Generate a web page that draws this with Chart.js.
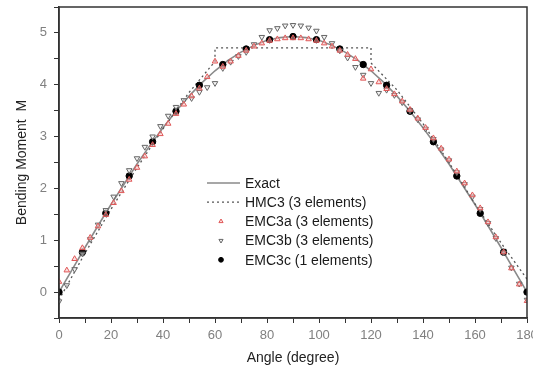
<!DOCTYPE html>
<html>
<head>
<meta charset="utf-8">
<script src="https://cdn.jsdelivr.net/npm/chart.js@4/dist/chart.umd.min.js"></script>
<style>
  html, body { margin: 0; padding: 0; background: #fff; }
  #wrap { width: 533px; height: 374px; }
</style>
</head>
<body>
<div id="wrap"><canvas id="c"></canvas></div>
<script>
// ---- data ----
let exactAngle = [0,5,10,15,20,25,30,35,40,45,50,55,60,65,70,75,80,85,90,95,100,105,110,115,120,125,130,135,140,145,150,155,160,165,170,175,180]
let exactM = [0,0.43,0.86,1.28,1.69,2.08,2.47,2.83,3.17,3.49,3.78,4.04,4.27,4.47,4.63,4.76,4.86,4.91,4.93,4.91,4.86,4.76,4.63,4.47,4.27,4.04,3.78,3.49,3.17,2.83,2.47,2.08,1.69,1.28,0.86,0.43,0]

let hmcAngle = [0,10,20,30,40,50,60,60,120,120,130,140,150,160,170,180]
let hmcM = [-0.15,0.75,1.6,2.4,3.15,3.85,4.45,4.71,4.71,4.42,3.9,3.25,2.5,1.7,0.95,0.25]

let emcAngle = [0,3,6,9,12,15,18,21,24,27,30,33,36,39,42,45,48,51,54,57,60,63,66,69,72,75,78,81,84,87,90,
                93,96,99,102,105,108,111,114,117,120,123,126,129,132,135,138,141,144,147,150,153,156,159,162,165,168,171,174,177,180]
let emc3a = [0.2,0.42,0.64,0.85,1.05,1.27,1.49,1.72,1.95,2.17,2.4,2.62,2.84,3.05,3.25,3.44,3.62,3.78,3.93,4.15,4.45,4.35,4.45,4.56,4.66,4.74,4.8,4.85,4.88,4.9,4.9,
             4.9,4.88,4.85,4.8,4.74,4.66,4.58,4.5,4.12,4.3,4.05,3.92,3.82,3.68,3.52,3.35,3.17,2.97,2.77,2.56,2.33,2.1,1.87,1.62,1.35,1.06,0.77,0.46,0.15,-0.17]
let emc3b = [-0.18,0.13,0.44,0.74,1.02,1.3,1.58,1.84,2.1,2.35,2.58,2.8,3.0,3.2,3.4,3.57,3.7,3.74,3.86,3.95,4.03,4.32,4.44,4.55,4.63,4.78,4.92,5.05,5.09,5.14,5.15,
             5.14,5.1,5.04,4.92,4.8,4.66,4.52,4.34,4.19,4.03,3.84,3.9,3.8,3.66,3.5,3.33,3.15,2.95,2.75,2.54,2.31,2.08,1.84,1.6,1.33,1.04,0.76,0.47,0.16,-0.15]

let emcCAngle = [0,9,18,27,36,45,54,63,72,81,90,99,108,117,126,135,144,153,162,171,180]
let emc3c = [0,0.77,1.52,2.24,2.9,3.49,3.99,4.39,4.69,4.87,4.93,4.87,4.69,4.39,3.99,3.49,2.9,2.24,1.52,0.77,0]

let seriesNames = ["Exact", "HMC3 (3 elements)", "EMC3a (3 elements)", "EMC3b (3 elements)", "EMC3c (1 elements)"]

function pts(xs, ys) {
    return xs.map(function(x, i) { return { x: x, y: ys[i] } })
}

// frame around plot + legend inside the plot
let framePlugin = {
    id: "frame",
    afterDraw: function(chart) {
        let ctx = chart.ctx
        let a = chart.chartArea
        ctx.save()
        ctx.strokeStyle = "#333"
        ctx.lineWidth = 1.5
        ctx.strokeRect(a.left, a.top, a.right - a.left, a.bottom - a.top)

        // legend
        let x0 = 207, y0 = 183, gap = 19.2
        ctx.font = "14px 'Liberation Sans', Arial, sans-serif"
        ctx.textBaseline = "middle"
        chart.data.datasets.forEach(function(ds, i) {
            let y = y0 + i * gap
            if (ds.showLine) {
                ctx.beginPath()
                ctx.setLineDash(ds.borderDash || [])
                ctx.strokeStyle = ds.borderColor
                ctx.lineWidth = ds.borderWidth
                ctx.moveTo(x0, y)
                ctx.lineTo(x0 + 33, y)
                ctx.stroke()
                ctx.setLineDash([])
            } else {
                ctx.fillStyle = ds.pointBackgroundColor
                ctx.strokeStyle = ds.borderColor
                ctx.lineWidth = ds.borderWidth
                Chart.helpers.drawPoint(ctx, {
                    pointStyle: ds.pointStyle,
                    rotation: ds.rotation || 0,
                    radius: ds.pointRadius - 0.8,
                    borderWidth: ds.borderWidth
                }, x0 + 14, y)
            }
            ctx.fillStyle = "#1a1a1a"
            ctx.fillText(ds.label, x0 + 38, y + 1)
        })
        ctx.restore()
    }
}

let ctx = document.getElementById("c").getContext("2d")
let chart = new Chart(ctx, {
    type: "scatter",
    data: {
        datasets: [
            {
                label: seriesNames[0],
                data: pts(exactAngle, exactM),
                showLine: true,
                borderColor: "#8a8a8a",
                borderWidth: 1.6,
                pointRadius: 0,
                order: 5
            },
            {
                label: seriesNames[1],
                data: pts(hmcAngle, hmcM),
                showLine: true,
                borderColor: "#555",
                borderWidth: 1.3,
                borderDash: [2, 3],
                pointRadius: 0,
                order: 4
            },
            {
                label: seriesNames[2],
                data: pts(emcAngle, emc3a),
                pointStyle: "triangle",
                pointRadius: 3.2,
                borderWidth: 1,
                borderColor: "#e05858",
                backgroundColor: "rgba(250,190,190,0.5)",
                pointBackgroundColor: "rgba(250,190,190,0.5)",
                order: 1
            },
            {
                label: seriesNames[3],
                data: pts(emcAngle, emc3b),
                pointStyle: "triangle",
                rotation: 180,
                pointRadius: 3.2,
                borderWidth: 1,
                borderColor: "#666",
                backgroundColor: "rgba(235,235,235,0.6)",
                pointBackgroundColor: "rgba(235,235,235,0.6)",
                order: 2
            },
            {
                label: seriesNames[4],
                data: pts(emcCAngle, emc3c),
                pointStyle: "circle",
                pointRadius: 3.2,
                borderWidth: 1,
                borderColor: "#000",
                backgroundColor: "#000",
                pointBackgroundColor: "#000",
                order: 3
            }
        ]
    },
    options: {
        responsive: true,
        maintainAspectRatio: false,
        animation: false,
        layout: { padding: { left: 14, right: 6, top: 7, bottom: 7 } },
        plugins: {
            legend: { display: false },
            tooltip: { enabled: false }
        },
        scales: {
            x: {
                type: "linear",
                min: 0,
                max: 180,
                border: { color: "#333", width: 1.5 },
                grid: { drawOnChartArea: false, drawTicks: true, tickLength: 5, color: "#333" },
                ticks: {
                    stepSize: 10,
                    color: "#808080",
                    font: { family: "'Liberation Sans', Arial, sans-serif", size: 13 },
                    padding: 5,
                    maxRotation: 0,
                    autoSkip: false,
                    callback: function(v) { return v % 20 === 0 ? String(v) : "" }
                },
                title: {
                    display: true,
                    text: "Angle (degree)",
                    color: "#222",
                    font: { family: "'Liberation Sans', Arial, sans-serif", size: 14 },
                    padding: { top: 5, bottom: 0 }
                },
                afterFit: function(s) { s.paddingRight = 0; s.paddingLeft = 0; s.height = 49 }
            },
            y: {
                type: "linear",
                min: -0.5,
                max: 5.5,
                border: { color: "#333", width: 1.5 },
                grid: { drawOnChartArea: false, drawTicks: true, tickLength: 5, color: "#333" },
                ticks: {
                    stepSize: 0.5,
                    color: "#808080",
                    font: { family: "'Liberation Sans', Arial, sans-serif", size: 13 },
                    padding: 7,
                    autoSkip: false,
                    callback: function(v) { return Number.isInteger(v) ? String(v) : "" }
                },
                title: {
                    display: true,
                    text: "Bending Moment  M",
                    color: "#222",
                    font: { family: "'Liberation Sans', Arial, sans-serif", size: 14 },
                    padding: { top: 0, bottom: 6 }
                },
                afterFit: function(s) { s.width = 45; s.paddingTop = 0; s.paddingBottom = 0 }
            }
        }
    },
    plugins: [framePlugin]
})
</script>
</body>
</html>
